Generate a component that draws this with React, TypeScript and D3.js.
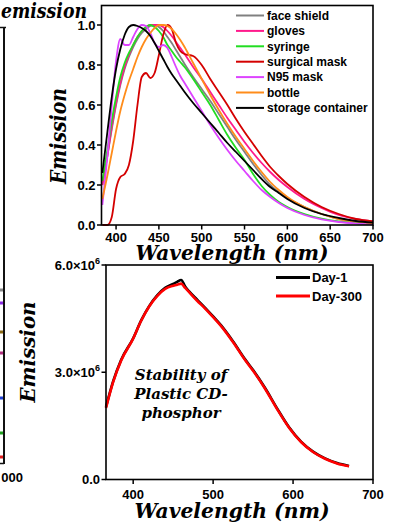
import React from "react";
import * as d3 from "d3";

// ---------- Top panel data ----------
const wlTop = [384, 390, 395, 400, 405, 410, 415, 420, 425, 430, 435, 440, 445, 450, 455, 460, 465, 470, 475, 480, 490, 500, 510, 520, 530, 540, 550, 560, 570, 580, 590, 600, 620, 640, 660, 680, 700];
const faceShield = [0.2, 0.35, 0.48, 0.6, 0.7, 0.78, 0.84, 0.89, 0.93, 0.96, 0.98, 0.995, 1.0, 0.99, 0.97, 0.94, 0.91, 0.875, 0.84, 0.805, 0.74, 0.68, 0.62, 0.555, 0.49, 0.425, 0.365, 0.305, 0.25, 0.2, 0.165, 0.135, 0.09, 0.055, 0.03, 0.017, 0.01];
const gloves = [0.2, 0.35, 0.49, 0.61, 0.71, 0.79, 0.85, 0.9, 0.94, 0.97, 0.99, 1.0, 1.0, 1.0, 0.99, 0.97, 0.945, 0.915, 0.885, 0.855, 0.79, 0.73, 0.665, 0.6, 0.535, 0.475, 0.415, 0.36, 0.31, 0.265, 0.225, 0.19, 0.13, 0.085, 0.05, 0.03, 0.018];
const syringe = [0.22, 0.38, 0.52, 0.64, 0.74, 0.81, 0.86, 0.9, 0.94, 0.97, 0.99, 1.0, 0.99, 0.97, 0.94, 0.9, 0.87, 0.84, 0.815, 0.79, 0.73, 0.665, 0.6, 0.525, 0.45, 0.385, 0.325, 0.255, 0.195, 0.15, 0.115, 0.09, 0.055, 0.032, 0.018, 0.01, 0.005];
const surgicalMask = [0.0, 0.0, 0.04, 0.18, 0.24, 0.255, 0.3, 0.42, 0.6, 0.74, 0.76, 0.735, 0.76, 0.85, 0.95, 1.0, 0.98, 0.91, 0.87, 0.855, 0.845, 0.8, 0.73, 0.665, 0.6, 0.53, 0.465, 0.405, 0.345, 0.29, 0.245, 0.205, 0.14, 0.09, 0.055, 0.03, 0.018];
const n95Mask = [0.1, 0.35, 0.6, 0.82, 0.93, 0.9, 0.9, 0.94, 0.98, 1.0, 0.995, 0.96, 0.91, 0.89, 0.9, 0.885, 0.84, 0.79, 0.745, 0.71, 0.64, 0.57, 0.5, 0.435, 0.375, 0.32, 0.27, 0.22, 0.175, 0.14, 0.11, 0.085, 0.05, 0.028, 0.015, 0.008, 0.004];
const bottle = [0.13, 0.25, 0.36, 0.47, 0.57, 0.65, 0.72, 0.78, 0.84, 0.89, 0.93, 0.96, 0.985, 1.0, 1.0, 0.995, 0.98, 0.955, 0.925, 0.89, 0.81, 0.73, 0.65, 0.575, 0.505, 0.44, 0.38, 0.32, 0.265, 0.215, 0.175, 0.14, 0.09, 0.055, 0.03, 0.018, 0.01];
const storageContainer = [0.26, 0.47, 0.64, 0.78, 0.88, 0.95, 0.99, 1.0, 0.995, 0.985, 0.97, 0.945, 0.91, 0.87, 0.83, 0.79, 0.755, 0.725, 0.695, 0.665, 0.61, 0.56, 0.51, 0.46, 0.41, 0.365, 0.32, 0.275, 0.23, 0.19, 0.16, 0.13, 0.085, 0.055, 0.035, 0.02, 0.012];

const topNames = ["face shield", "gloves", "syringe", "surgical mask", "N95 mask", "bottle", "storage container"];
const topColors = ["#808080", "#ff1a8c", "#22dd22", "#d40000", "#dd44ff", "#ff8c1a", "#000000"];
const topSeries = [faceShield, gloves, syringe, surgicalMask, n95Mask, bottle, storageContainer];
const topXTicks = [400, 450, 500, 550, 600, 650, 700];
const topYTicks = [0, 0.2, 0.4, 0.6, 0.8, 1.0];

// ---------- Bottom panel data ----------
const wlBot = [366, 375, 385, 400, 410, 420, 430, 440, 450, 455, 460, 465, 470, 480, 490, 500, 510, 525, 540, 550, 565, 580, 595, 610, 625, 640, 655, 670];
const day1 = [2.03, 2.75, 3.35, 3.95, 4.45, 4.85, 5.15, 5.36, 5.47, 5.53, 5.58, 5.4, 5.26, 5.03, 4.8, 4.56, 4.31, 3.86, 3.36, 3.06, 2.56, 1.99, 1.46, 1.06, 0.78, 0.59, 0.46, 0.38];
const day300 = [2.0, 2.73, 3.33, 3.94, 4.44, 4.84, 5.13, 5.33, 5.42, 5.45, 5.48, 5.36, 5.24, 5.0, 4.78, 4.54, 4.29, 3.84, 3.34, 3.04, 2.54, 1.97, 1.45, 1.05, 0.77, 0.58, 0.45, 0.37];
const botNames = ["Day-1", "Day-300"];
const botColors = ["#000000", "#ff0000"];
const botSeries = [day1, day300];
const botXTicks = [400, 500, 600, 700];
const botYTicks = [0, 3, 6];

// left partial panel markers
const leftMarkerY = [290, 303, 332, 353, 398, 433, 457];
const leftMarkerColors = ["#888888", "#8a2be2", "#8b6914", "#b0307f", "#2040d0", "#20a020", "#e02020"];

const tickFont = "'Liberation Sans', Arial, sans-serif";
const titleFont = "'DejaVu Serif', serif";

export default function App() {
  // top scales
  const tL = 101.5, tR = 373, tT = 5.5, tB = 225;
  const xT = d3.scaleLinear().domain([383, 700]).range([tL, tR]);
  const yT = d3.scaleLinear().domain([0, 1.0975]).range([tB, tT]);
  // bottom scales
  const bL = 106, bR = 373, bT = 265, bB = 479.5;
  const xB = d3.scaleLinear().domain([366, 700]).range([bL, bR]);
  const yB = d3.scaleLinear().domain([0, 6]).range([bB, bT]);

  const lineT = (vals: number[]) =>
    d3.line<number>().x((_, i) => xT(wlTop[i])).y((v) => yT(v)).curve(d3.curveMonotoneX)(vals) || "";
  const lineB = (vals: number[]) =>
    d3.line<number>().x((_, i) => xB(wlBot[i])).y((v) => yB(v)).curve(d3.curveMonotoneX)(vals) || "";

  return (
    <svg width={403} height={526} style={{ position: "absolute", left: 0, top: 0, background: "#fff" }}>
      <rect x={0} y={0} width={403} height={526} fill="#fff" />
      {/* left partial panel remnants */}
      <text x={1} y={18} fontFamily={titleFont} fontWeight="bold" fontStyle="italic" fontSize={20} textLength={86} lengthAdjust="spacingAndGlyphs">emission</text>
      <line x1={4} y1={27} x2={4} y2={464} stroke="#111" strokeWidth={2} />
      <line x1={0} y1={27.5} x2={6} y2={27.5} stroke="#111" strokeWidth={1.5} />
      <line x1={0} y1={463.5} x2={4} y2={463.5} stroke="#111" strokeWidth={1.5} />
      {leftMarkerY.map((y, i) => (
        <rect key={i} x={0} y={y - 1.5} width={3} height={3} fill={leftMarkerColors[i]} />
      ))}
      <text x={23} y={482} textAnchor="end" fontFamily={tickFont} fontWeight="bold" fontSize={13}>000</text>

      {/* ---------- top panel ---------- */}
      <g>
        {topSeries.map((s, i) => (
          <path key={i} d={lineT(s)} fill="none" stroke={topColors[i]} strokeWidth={1.8} />
        ))}
        <rect x={tL} y={tT} width={tR - tL} height={tB - tT} fill="none" stroke="#000" strokeWidth={1.6} />
        {topYTicks.map((t) => (
          <g key={t}>
            <line x1={tL - 4.5} x2={tL} y1={yT(t)} y2={yT(t)} stroke="#000" strokeWidth={1.5} />
            <text x={tL - 6} y={yT(t) + 4.5} textAnchor="end" fontFamily={tickFont} fontWeight="bold" fontSize={13}>{t.toFixed(1)}</text>
          </g>
        ))}
        {topXTicks.map((t) => (
          <g key={t}>
            <line x1={xT(t)} x2={xT(t)} y1={tB} y2={tB + 4.5} stroke="#000" strokeWidth={1.5} />
            <text x={xT(t)} y={tB + 16.5} textAnchor="middle" fontFamily={tickFont} fontWeight="bold" fontSize={13}>{t}</text>
          </g>
        ))}
        {topNames.map((n, i) => (
          <g key={n}>
            <line x1={236} x2={264} y1={15.5 + i * 15.4} y2={15.5 + i * 15.4} stroke={topColors[i]} strokeWidth={2} />
            <text x={267} y={15.5 + i * 15.4 + 4.3} fontFamily={tickFont} fontWeight="bold" fontSize={12}>{n}</text>
          </g>
        ))}
        <text x={232} y={260} textAnchor="middle" fontFamily={titleFont} fontWeight="bold" fontStyle="italic" fontSize={21} textLength={193} lengthAdjust="spacingAndGlyphs">Wavelength (nm)</text>
        <text transform="translate(66,136) rotate(-90)" textAnchor="middle" fontFamily={titleFont} fontWeight="bold" fontStyle="italic" fontSize={22} textLength={96} lengthAdjust="spacingAndGlyphs">Emission</text>
      </g>

      {/* ---------- bottom panel ---------- */}
      <g>
        {botSeries.map((s, i) => (
          <path key={i} d={lineB(s)} fill="none" stroke={botColors[i]} strokeWidth={2.6} />
        ))}
        <rect x={bL} y={bT} width={bR - bL} height={bB - bT} fill="none" stroke="#000" strokeWidth={1.6} />
        {botYTicks.map((t) => (
          <g key={t}>
            <line x1={bL - 4.5} x2={bL} y1={yB(t)} y2={yB(t)} stroke="#000" strokeWidth={1.5} />
            <text x={bL - 6} y={yB(t) + 4.5} textAnchor="end" fontFamily={tickFont} fontWeight="bold" fontSize={13}>
              {t === 0 ? "0.0" : (
                <>
                  {t.toFixed(1) + "×10"}
                  <tspan fontSize={9} dy={-5.5}>6</tspan>
                </>
              )}
            </text>
          </g>
        ))}
        {botXTicks.map((t) => (
          <g key={t}>
            <line x1={xB(t)} x2={xB(t)} y1={bB} y2={bB + 4.5} stroke="#000" strokeWidth={1.5} />
            <text x={xB(t)} y={bB + 19} textAnchor="middle" fontFamily={tickFont} fontWeight="bold" fontSize={13}>{t}</text>
          </g>
        ))}
        {botNames.map((n, i) => (
          <g key={n}>
            <line x1={276} x2={310} y1={277.5 + i * 18.5} y2={277.5 + i * 18.5} stroke={botColors[i]} strokeWidth={3} />
            <text x={312} y={277.5 + i * 18.5 + 4.5} fontFamily={tickFont} fontWeight="bold" fontSize={13}>{n}</text>
          </g>
        ))}
        <text x={181} y={380} textAnchor="middle" fontFamily={titleFont} fontWeight="bold" fontStyle="italic" fontSize={15}>
          <tspan x={181} dy={0}>Stability of</tspan>
          <tspan x={181} dy={19}>Plastic CD-</tspan>
          <tspan x={181} dy={19}>phosphor</tspan>
        </text>
        <text x={232} y={518} textAnchor="middle" fontFamily={titleFont} fontWeight="bold" fontStyle="italic" fontSize={21} textLength={195} lengthAdjust="spacingAndGlyphs">Wavelength (nm)</text>
        <text transform="translate(35,352) rotate(-90)" textAnchor="middle" fontFamily={titleFont} fontWeight="bold" fontStyle="italic" fontSize={21} textLength={101} lengthAdjust="spacingAndGlyphs">Emission</text>
      </g>
    </svg>
  );
}
